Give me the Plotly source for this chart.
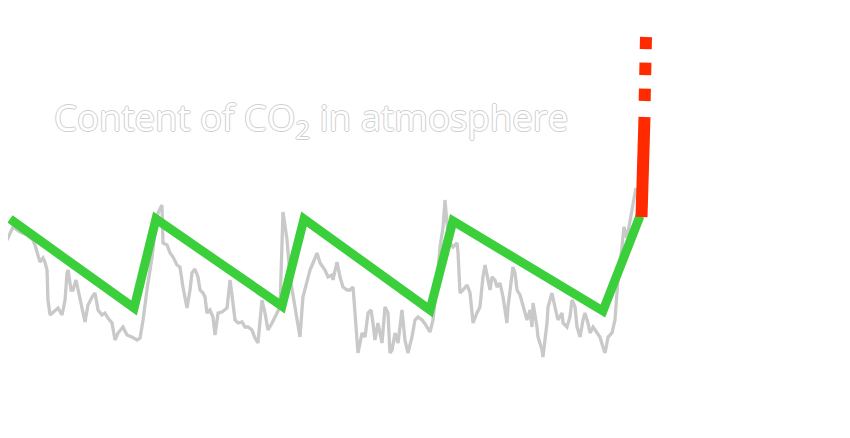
import plotly.graph_objects as go

# Ice-core style CO2 record (age in thousand years relative to present, CO2 in ppm)
gray_age = [-422, -418, -413.3, -408.7, -404.7, -403.3, -402, -400, -398, -396.7, -395.3, -394.7,
            -393.3, -391.3, -388, -385.3, -383.3, -382, -381.3, -379.3, -378, -376, -374.7, -372,
            -370, -368, -365.3, -363.3, -361.3, -358.7, -356.7, -354.7, -352, -350, -348, -344.7,
            -342, -338.7, -335.3, -333.3, -331.3, -328.7, -325.3, -323.3, -321.3, -318.7, -318,
            -315.3, -313.3, -311.3, -308.7, -306.7, -304.7, -302, -300, -298.7, -296.7, -294.7,
            -293.3, -291.3, -290, -288.7, -286.7, -284.7, -283.3, -281.3, -278.7, -275.3, -273.3,
            -272, -270, -268, -265.3, -263.3, -261.3, -258.7, -256.7, -254.7, -252, -250, -248,
            -245.3, -243.3, -240, -238, -235.3, -233.3, -230, -226.7, -224.7, -222, -220, -218,
            -215.3, -213.3, -210, -208, -205.3, -204.7, -202, -200, -198, -195.3, -193.3, -191.3,
            -188.7, -188, -185.3, -183.3, -181.3, -179.3, -178, -176.7, -174.7, -172, -170, -168,
            -166.7, -165.3, -163.3, -161.3, -158.7, -156.7, -154.7, -152, -150, -148, -145.3,
            -143.3, -140, -138, -135.3, -133.3, -131.3, -130, -128.7, -126.7, -124.7, -122, -121.3,
            -120, -118, -115.3, -113.3, -112, -111.3, -108.7, -106.7, -104.7, -103.3, -101.3, -100,
            -98.7, -96.7, -95.3, -93.3, -91.3, -88.7, -88, -86.7, -84.7, -83.3, -82, -80, -78,
            -75.3, -73.3, -72, -71.3, -70, -68.7, -68, -65.3, -64.7, -62, -61.3, -58.7, -56.7,
            -54.7, -52, -51.3, -48.7, -46.7, -45.3, -43.3, -42, -40, -38, -36.7, -34.7, -33.3,
            -31.3, -28.7, -26.7, -24.7, -23.3, -21.3, -18.7, -16.7, -14.7, -12, -10.7, -8.7, -6.7,
            -2.7]
gray_ppm = [259, 272, 267, 264, 259, 254, 247, 237, 241, 237, 229, 199,
            184, 187, 191, 184, 199, 226, 229, 209, 209, 219, 209, 189,
            177, 194, 202, 206, 189, 184, 186, 181, 176, 159, 166, 172,
            164, 162, 159, 161, 179, 209, 242, 269, 286, 294, 256,
            254, 246, 242, 234, 232, 212, 191, 209, 226, 230, 222,
            209, 206, 202, 186, 189, 182, 164, 186, 187, 191, 219,
            204, 179, 176, 177, 172, 172, 169, 161, 156, 199, 186, 169,
            176, 182, 192, 287, 259, 222, 192, 162, 202, 219, 229, 236,
            246, 236, 229, 222, 224, 219, 237, 222, 212, 209, 209, 212,
            156, 146, 166, 162, 186, 189, 176, 159, 176, 156, 192, 186,
            146, 149, 166, 156, 189, 159, 146, 162, 179, 182, 179,
            175, 167, 179, 219, 252, 272, 299, 276, 256, 252, 256, 246,
            206, 209, 214, 206, 189, 176, 186, 192, 222, 234, 219, 209,
            222, 219, 212, 216, 202, 176, 192, 206, 232, 226, 209, 204, 192,
            179, 189, 172, 196, 186, 172, 162, 149, 142, 176, 192, 206, 192,
            179, 186, 176, 172, 182, 199, 192, 172, 162, 179, 186, 176, 166,
            172, 166, 162, 152, 146, 162, 166, 179, 219, 252, 272, 261, 277,
            311]

# Simplified glacial cycle (sawtooth)
cycle_age = [-420, -337.3, -322.7, -238.7, -224, -140, -124.7, -24.7, 0]
cycle_ppm = [280, 191, 280, 193, 280, 189, 278, 188, 283]

# Modern rise and projection
modern_age = [1.0, 3.0]
modern_ppm = [282, 382]
projection_age = [3.1, 4.0]
projection_ppm = [398, 462]

title_text = "Content of CO<sub>2</sub> in atmosphere"

fig = go.Figure()
fig.add_trace(go.Scatter(x=gray_age, y=gray_ppm, mode="lines",
                         line=dict(color="#c9c9c9", width=3.3), hoverinfo="skip"))
fig.add_trace(go.Scatter(x=cycle_age, y=cycle_ppm, mode="lines",
                         line=dict(color="#3ccf3c", width=9), hoverinfo="skip"))
fig.add_trace(go.Scatter(x=modern_age, y=modern_ppm, mode="lines",
                         line=dict(color="#ff2a00", width=12), hoverinfo="skip"))
fig.add_trace(go.Scatter(x=projection_age, y=projection_ppm, mode="lines",
                         line=dict(color="#ff2a00", width=12, dash="12.5px,13.5px"),
                         hoverinfo="skip"))

fig.add_annotation(text=title_text, xref="paper", yref="paper",
                   x=44 / 850, y=1 - 111 / 438, xanchor="left", yanchor="middle",
                   showarrow=False,
                   font=dict(family="Open Sans", size=36.6, color="white",
                             shadow="1px 0px 0px #cfcfcf, -1px 0px 0px #cfcfcf, "
                                    "0px 1px 0px #cfcfcf, 0px -1px 0px #cfcfcf"))

fig.update_layout(
    width=850, height=438,
    margin=dict(l=0, r=0, t=0, b=0),
    paper_bgcolor="white", plot_bgcolor="white",
    showlegend=False,
    xaxis=dict(range=[-421.33, 145.33], visible=False, fixedrange=True),
    yaxis=dict(range=[53, 491], visible=False, fixedrange=True),
)

fig.write_html("out.html")
